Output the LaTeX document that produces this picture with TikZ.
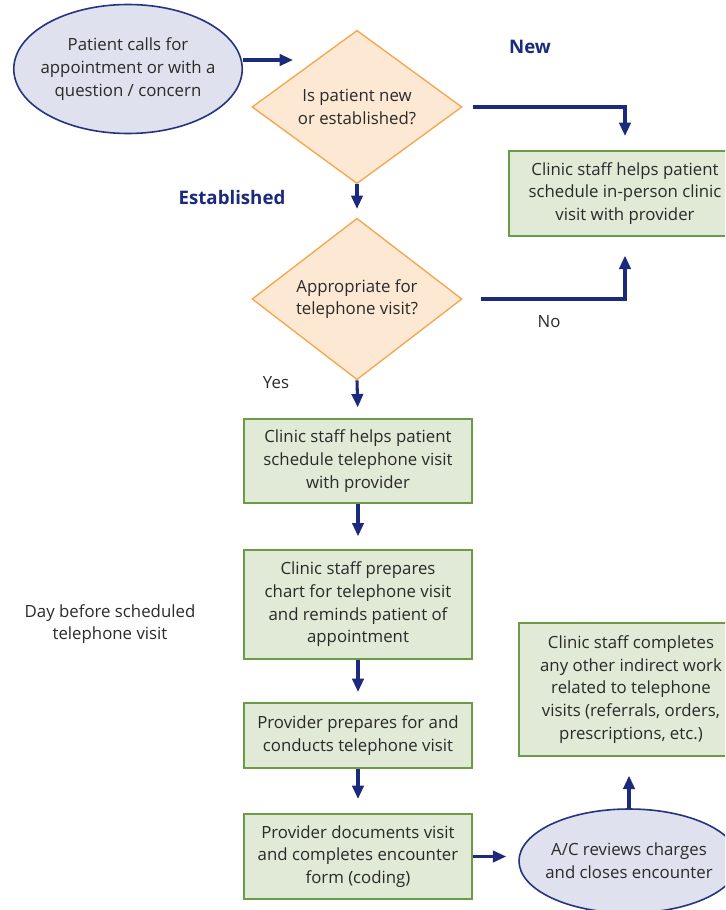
\documentclass[tikz,border=0pt]{standalone}
\usepackage{fontspec}
\setmainfont{Open Sans}
\usetikzlibrary{shapes.geometric,arrows.meta}
\definecolor{navy}{HTML}{1B2A7C}
\definecolor{ovalfill}{HTML}{DFE1EE}
\definecolor{ovaldraw}{HTML}{26347F}
\definecolor{decfill}{HTML}{FDE8D3}
\definecolor{decdraw}{HTML}{F5A64B}
\definecolor{boxfill}{HTML}{E0EAD6}
\definecolor{boxdraw}{HTML}{6A9B45}
\definecolor{ink}{HTML}{2A2A2A}
\tikzset{
  every node/.style={font=\fontsize{12.6}{17}\selectfont, text=ink, align=center},
  oval/.style={ellipse, draw=ovaldraw, fill=ovalfill, line width=1.2pt, inner sep=-5pt},
  decision/.style={diamond, draw=decdraw, fill=decfill, line width=1pt, inner sep=0pt,
    minimum width=157.5pt, minimum height=114pt},
  stepbox/.style={rectangle, draw=boxdraw, fill=boxfill, line width=1.5pt, inner sep=2pt,
    minimum width=171pt},
  arr/.style={draw=navy, line width=2.3pt, -{Triangle[width=8.5pt,length=10pt]}},
  branch/.style={text=navy, font=\fontsize{14}{17}\selectfont\bfseries},
  note/.style={text=ink}
}
\begin{document}
\begin{tikzpicture}[x=0.75pt,y=-0.75pt]
\useasboundingbox (0,0) rectangle (725,910);
\clip (0,0) rectangle (725,910);
\fill[white] (0,0) rectangle (725,910);

% shapes
\node[oval, minimum width=171pt, minimum height=96.75pt] (call) at (128,69)
  {Patient calls for\\appointment or with a\\question / concern};
\node[decision] (newq) at (357,107) {Is patient new\\or established?};
\node[stepbox, minimum width=174pt, minimum height=63.75pt] (inperson) at (625,193.5)
  {Clinic staff helps patient\\schedule in-person clinic\\visit with provider};
\node[decision] (apt) at (357,299) {Appropriate for\\telephone visit?};
\node[stepbox, minimum height=63pt] (sched) at (358,461)
  {Clinic staff helps patient\\schedule telephone visit\\with provider};
\node[stepbox, minimum height=81.75pt] (prep) at (358,604.5)
  {Clinic staff prepares\\chart for telephone visit\\and reminds patient of\\appointment};
\node[stepbox, minimum height=48.75pt] (conduct) at (358,735.5)
  {Provider prepares for and\\conducts telephone visit};
\node[stepbox, minimum height=63.75pt] (docs) at (358,856.5)
  {Provider documents visit\\and completes encounter\\form (coding)};
\node[oval, minimum width=165pt, minimum height=78pt] (review) at (629,861)
  {A/C reviews charges\\and closes encounter};
\node[stepbox, minimum width=168pt, minimum height=99.75pt] (indirect) at (631,689.5)
  {Clinic staff completes\\any other indirect work\\related to telephone\\visits (referrals, orders,\\prescriptions, etc.)};

% labels
\node[branch] (lnew) at (530,47) {New};
\node[branch] (lest) at (232,197) {Established};
\node[note] (lno) at (549,322) {No};
\node[note] (lyes) at (276,383) {Yes};
\node[note] (lday) at (110,624) {Day before scheduled\\telephone visit};

% connectors
\coordinate (callend) at (293,60);
\draw[arr] (call.east |- callend) -- (callend);
\draw[arr, shorten <=7.5pt, shorten >=10.5pt] (newq.east) -| (inperson.north);
\draw[arr, shorten >=6.5pt] (newq.south) -- (apt.north);
\draw[arr, shorten <=13.5pt, shorten >=14pt] (apt.east) -| (inperson.south);
\draw[arr, shorten >=8pt] (apt.south) -- (sched.north);
\draw[arr, shorten >=9.5pt] (sched.south) -- (prep.north);
\draw[arr, shorten >=7.5pt] (prep.south) -- (conduct.north);
\draw[arr, shorten >=10.5pt] (conduct.south) -- (docs.north);
\draw[arr, shorten >=9pt] (docs.east) -- (docs.east -| review.west);
\draw[arr, shorten >=14pt] (review.north) -- (review.north |- indirect.south);
\end{tikzpicture}
\end{document}
